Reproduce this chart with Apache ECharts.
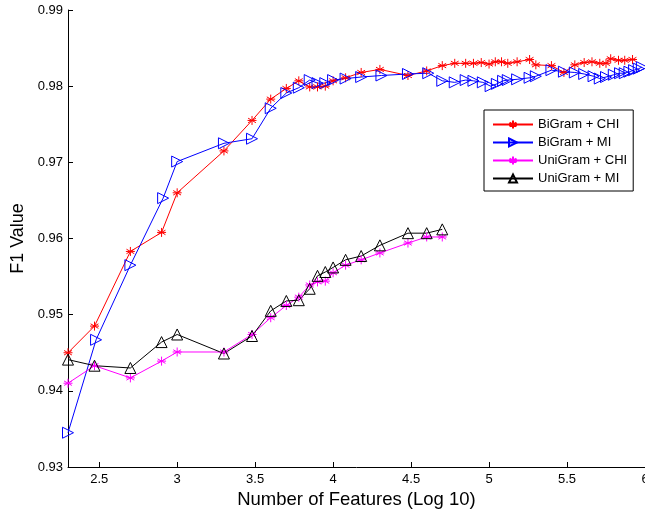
<!DOCTYPE html>
<html>
<head>
<meta charset="utf-8">
<script src="https://cdn.jsdelivr.net/npm/echarts@6/dist/echarts.min.js"></script>
<style>
  html, body { margin: 0; padding: 0; background: #fff; }
  #chart { width: 645px; height: 514px; }
</style>
</head>
<body>
<div id="chart"></div>
<script>
// values
var biChiX = [2.3, 2.47, 2.7, 2.9, 3.0, 3.3, 3.48, 3.6, 3.7, 3.78, 3.85, 3.9, 3.95, 4.0, 4.08, 4.18, 4.3, 4.48, 4.6, 4.7, 4.78, 4.85, 4.9, 4.95, 5.0, 5.04, 5.08, 5.12, 5.18, 5.26, 5.3, 5.4, 5.48, 5.55, 5.61, 5.66, 5.71, 5.75, 5.78, 5.83, 5.87, 5.92];
var biChiY = [0.9450, 0.9485, 0.9583, 0.9608, 0.9660, 0.9715, 0.9755, 0.9783, 0.9797, 0.9807, 0.9799, 0.9799, 0.9800, 0.9807, 0.9811, 0.9818, 0.9822, 0.9814, 0.9820, 0.9827, 0.9830, 0.9830, 0.9830, 0.9831, 0.9829, 0.9832, 0.9832, 0.9830, 0.9832, 0.9835, 0.9828, 0.9827, 0.9818, 0.9828, 0.9831, 0.9832, 0.9830, 0.9830, 0.9836, 0.9834, 0.9834, 0.9835];

var biMiX = [2.3, 2.48, 2.7, 2.91, 3.0, 3.3, 3.48, 3.6, 3.7, 3.78, 3.85, 3.9, 3.95, 4.0, 4.08, 4.18, 4.31, 4.48, 4.61, 4.7, 4.78, 4.85, 4.9, 4.96, 5.01, 5.05, 5.09, 5.12, 5.18, 5.26, 5.3, 5.4, 5.48, 5.55, 5.61, 5.67, 5.71, 5.75, 5.8, 5.84, 5.87, 5.9, 5.93, 5.96, 5.98];
var biMiY = [0.9345, 0.9467, 0.9565, 0.9653, 0.9701, 0.9725, 0.9731, 0.9771, 0.9791, 0.9798, 0.9808, 0.9804, 0.9804, 0.9808, 0.9810, 0.9812, 0.9814, 0.9816, 0.9817, 0.9807, 0.9805, 0.9808, 0.9807, 0.9805, 0.9800, 0.9803, 0.9807, 0.9808, 0.9809, 0.9811, 0.9813, 0.9821, 0.9819, 0.9818, 0.9816, 0.9813, 0.9810, 0.9812, 0.9815, 0.9817, 0.9817, 0.9819, 0.9821, 0.9823, 0.9825];

var uniX = [2.3, 2.47, 2.7, 2.9, 3.0, 3.3, 3.48, 3.6, 3.7, 3.78, 3.85, 3.9, 3.95, 4.0, 4.08, 4.18, 4.3, 4.48, 4.6, 4.7];
var uniChiY = [0.9410, 0.9433, 0.9417, 0.9439, 0.9451, 0.9451, 0.9474, 0.9496, 0.9512, 0.9523, 0.9539, 0.9543, 0.9544, 0.9555, 0.9565, 0.9572, 0.9581, 0.9594, 0.9602, 0.9602];
var uniMiY = [0.9441, 0.9433, 0.9430, 0.9464, 0.9474, 0.9449, 0.9472, 0.9505, 0.9518, 0.9519, 0.9534, 0.9551, 0.9556, 0.9562, 0.9572, 0.9577, 0.9591, 0.9607, 0.9607, 0.9612];

var xTicks = [2.5, 3, 3.5, 4, 4.5, 5, 5.5, 6];

var FONT = 'Liberation Sans';
var STAR = 'path://M0,-5L0,5M-4.33,-2.5L4.33,2.5M-4.33,2.5L4.33,-2.5M-5,0L5,0';
var TRI_RIGHT = 'path://M0,0L9,5L0,10Z';
var TRI_UP = 'path://M5,0L10,9L0,9Z';

function pairs(xs, ys) {
  var out = [];
  for (var i = 0; i < xs.length; i++) out.push([xs[i], ys[i]]);
  return out;
}

function makeSeries(name, xs, ys, color, symbol, size, filled) {
  return {
    name: name,
    type: 'line',
    data: pairs(xs, ys),
    symbol: symbol,
    symbolSize: size,
    showAllSymbol: true,
    clip: false,
    animation: false,
    lineStyle: { color: color, width: 1 },
    itemStyle: {
      color: filled ? color : 'rgba(255,255,255,0)',
      borderColor: color,
      borderWidth: 1
    },
    emphasis: { disabled: true }
  };
}

var chart = echarts.init(document.getElementById('chart'));
chart.setOption({
  backgroundColor: '#fff',
  animation: false,
  grid: { left: 68, right: 0, top: 10, bottom: 47, containLabel: false, outerBoundsMode: 'none' },
  xAxis: {
    type: 'value',
    min: 2.3,
    max: 6,
    name: 'Number of Features (Log 10)',
    nameLocation: 'middle',
    nameGap: 22,
    nameTextStyle: { fontFamily: FONT, fontSize: 18.5, color: '#000' },
    axisLine: { lineStyle: { color: '#000', width: 1 } },
    axisTick: { inside: true, length: 5, customValues: xTicks, lineStyle: { color: '#000' } },
    axisLabel: {
      customValues: xTicks,
      fontFamily: FONT, fontSize: 13, color: '#000', margin: 6,
      formatter: function (v) { return String(v); }
    },
    splitLine: { show: false }
  },
  yAxis: {
    type: 'value',
    min: 0.93,
    max: 0.99,
    interval: 0.01,
    name: 'F1 Value',
    nameLocation: 'middle',
    nameGap: 36,
    nameTextStyle: { fontFamily: FONT, fontSize: 18, color: '#000' },
    axisLine: { show: true, lineStyle: { color: '#000', width: 1 } },
    axisTick: { show: true, inside: true, length: 5, lineStyle: { color: '#000' } },
    axisLabel: {
      fontFamily: FONT, fontSize: 13, color: '#000', margin: 5,
      formatter: function (v) { return v.toFixed(2); }
    },
    splitLine: { show: false }
  },
  legend: {
    orient: 'vertical',
    left: 484,
    top: 110,
    width: 150,
    padding: [8, 6, 6, 8],
    itemGap: 5,
    itemWidth: 40,
    itemHeight: 10,
    backgroundColor: '#fff',
    borderColor: '#000',
    borderWidth: 1,
    textStyle: { fontFamily: FONT, fontSize: 13, color: '#000', padding: [0, 0, 0, 0] },
    data: ['BiGram + CHI', 'BiGram + MI', 'UniGram + CHI', 'UniGram + MI']
  },
  series: [
    makeSeries('BiGram + CHI', biChiX, biChiY, '#ff0000', STAR, 9, true),
    makeSeries('BiGram + MI', biMiX, biMiY, '#0000ff', TRI_RIGHT, 11, false),
    makeSeries('UniGram + CHI', uniX, uniChiY, '#ff00ff', STAR, 9, true),
    makeSeries('UniGram + MI', uniX, uniMiY, '#000000', TRI_UP, 11, false)
  ]
});
</script>
</body>
</html>
